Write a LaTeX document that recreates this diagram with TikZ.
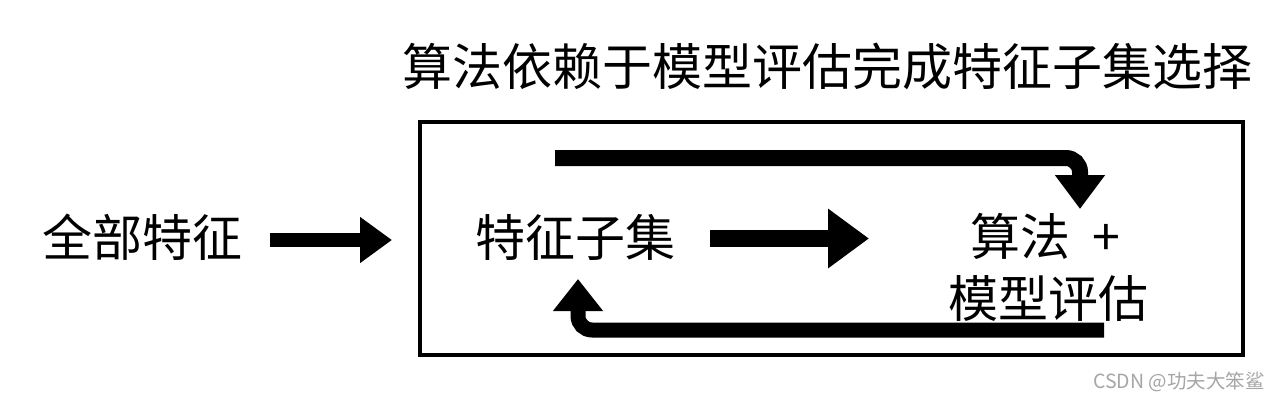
\documentclass[tikz,border=0pt]{standalone}
\usepackage{fontspec}
\setmainfont{Noto Sans CJK SC}
\usetikzlibrary{arrows.meta}
\tikzset{
  lbl/.style={inner sep=0pt, font=\fontsize{50}{56}\selectfont},
  fat/.style={draw=black, rounded corners=14pt},
}
\begin{document}
\begin{tikzpicture}[x=1pt,y=-1pt]
\useasboundingbox (0,0) rectangle (1279,400);
\fill[white] (0,0) rectangle (1279,400);
% title
\node[lbl] (title) at (827,66) {算法依赖于模型评估完成特征子集选择};
% frame
\draw[line width=4pt] (420,122) rectangle (1243,355);
\coordinate (frameW) at (392,240);
% nodes
\node[lbl] (all) at (142,237) {全部特征};
\node[lbl] (sub) at (575,237) {特征子集};
\node[lbl] (alg) at (1045,236) {算法\hspace{22pt}+};
\node[lbl] (eval) at (1048,298) {模型评估};
% arrow coordinates
\coordinate (a1s) at (270,240);
\coordinate (m1s) at (710,238.5);
\coordinate (m1e) at (869,238.5);
\coordinate (ts) at (555,158);
\coordinate (tc) at (1080,158);
\coordinate (te) at (1080,209);
\coordinate (bs) at (1104,330);
\coordinate (bc) at (578,330);
\coordinate (be) at (578,279);
% arrows
\draw[fat, line width=14pt, -{Triangle[length=32pt,width=44pt]}] (a1s) -- (frameW);
\draw[fat, line width=17pt, -{Triangle[length=41pt,width=57pt]}] (m1s) -- (m1e);
\draw[fat, line width=16pt, -{Triangle[length=34pt,width=48pt]}] (ts) -- (tc) -- (te);
\draw[fat, line width=15pt, -{Triangle[length=32pt,width=48pt]}] (bs) -- (bc) -- (be);
% watermark
\node[inner sep=0pt, text=black!35, font=\fontsize{19.5}{22}\selectfont, anchor=east] (wm) at (1265,382) {CSDN @功夫大笨鲨};
\end{tikzpicture}
\end{document}
